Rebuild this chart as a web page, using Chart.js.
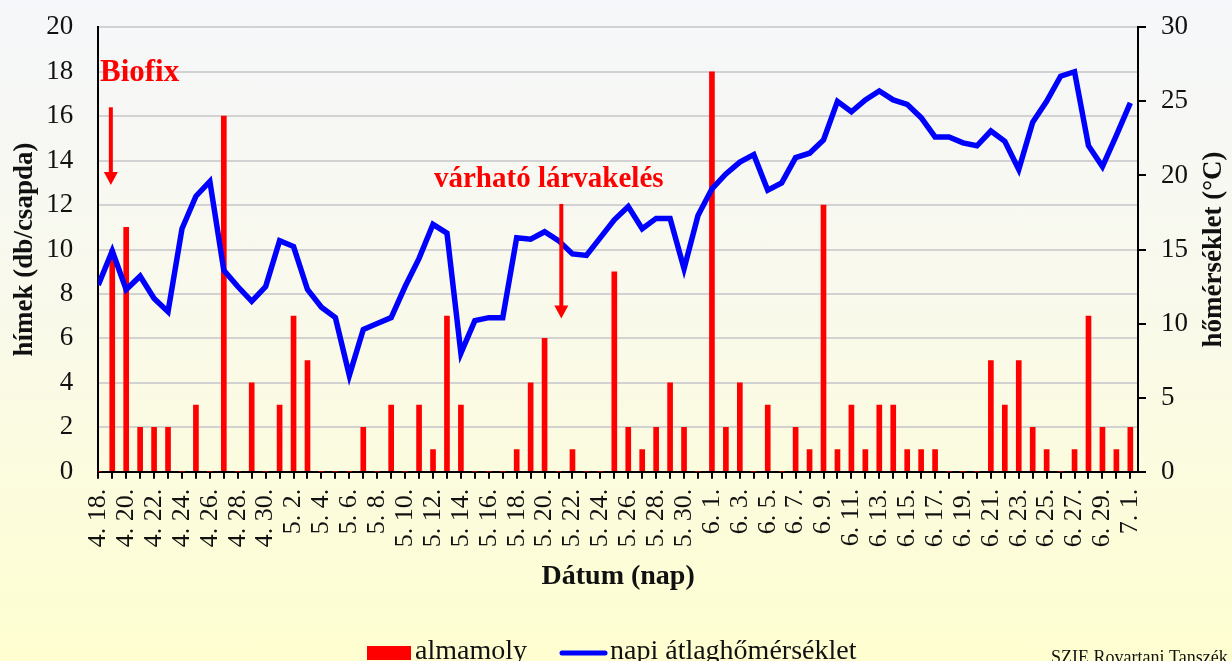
<!DOCTYPE html>
<html>
<head>
<meta charset="utf-8">
<script src="https://cdn.jsdelivr.net/npm/chart.js@4/dist/chart.umd.min.js"></script>
<style>
  html, body { margin: 0; padding: 0; overflow: hidden; }
  body { background: linear-gradient(to bottom, #f5f7fa 0%, #f9f9ec 45%, #fefed0 100%); }
  #wrap { width: 1232px; height: 661px; position: relative; }
</style>
</head>
<body>
<div id="wrap"><canvas id="chart"></canvas></div>
<script>
// napok (4. 18. - 7. 1.)
const dates = [
  '4. 18.','4. 19.','4. 20.','4. 21.','4. 22.','4. 23.','4. 24.','4. 25.','4. 26.','4. 27.','4. 28.','4. 29.','4. 30.',
  '5. 1.','5. 2.','5. 3.','5. 4.','5. 5.','5. 6.','5. 7.','5. 8.','5. 9.','5. 10.','5. 11.','5. 12.','5. 13.','5. 14.',
  '5. 15.','5. 16.','5. 17.','5. 18.','5. 19.','5. 20.','5. 21.','5. 22.','5. 23.','5. 24.','5. 25.','5. 26.','5. 27.',
  '5. 28.','5. 29.','5. 30.','5. 31.',
  '6. 1.','6. 2.','6. 3.','6. 4.','6. 5.','6. 6.','6. 7.','6. 8.','6. 9.','6. 10.','6. 11.','6. 12.','6. 13.','6. 14.',
  '6. 15.','6. 16.','6. 17.','6. 18.','6. 19.','6. 20.','6. 21.','6. 22.','6. 23.','6. 24.','6. 25.','6. 26.','6. 27.',
  '6. 28.','6. 29.','6. 30.','7. 1.'
];

// almamoly hímek (db/csapda)
const moths = [
  0, 10, 11, 2, 2, 2, 0, 3, 0, 16, 0, 4, 0,
  3, 7, 5, 0, 0, 0, 2, 0, 3, 0, 3, 1, 7, 3,
  0, 0, 0, 1, 4, 6, 0, 1, 0, 0, 9, 2, 1,
  2, 4, 2, 0,
  18, 2, 4, 0, 3, 0, 2, 1, 12, 1, 3, 1, 3, 3,
  1, 1, 1, 0, 0, 0, 5, 3, 5, 2, 1, 0, 1,
  7, 2, 1, 2
];

// napi átlaghőmérséklet (°C)
const temps = [
  12.6, 14.9, 12.3, 13.2, 11.7, 10.8, 16.4, 18.6, 19.6, 13.6, 12.5, 11.5, 12.5,
  15.6, 15.2, 12.3, 11.1, 10.4, 6.5, 9.6, 10.0, 10.4, 12.5, 14.4, 16.7, 16.1, 8.0,
  10.2, 10.4, 10.4, 15.8, 15.7, 16.2, 15.6, 14.7, 14.6, 15.8, 17.0, 17.9, 16.4,
  17.1, 17.1, 13.7, 17.3,
  19.1, 20.1, 20.9, 21.4, 19.0, 19.5, 21.2, 21.5, 22.4, 25.0, 24.3, 25.1, 25.7, 25.1,
  24.8, 23.9, 22.6, 22.6, 22.2, 22.0, 23.0, 22.3, 20.4, 23.6, 25.0, 26.7, 27.0,
  22.0, 20.6, 22.7, 24.9
];

const SERIF = "'Liberation Serif', 'Times New Roman', serif";
const TXT = '#111';

function arrow(ctx, x, y1, y2) {
  ctx.save();
  ctx.strokeStyle = '#ff0000';
  ctx.fillStyle = '#ff0000';
  ctx.lineWidth = 4;
  ctx.beginPath();
  ctx.moveTo(x, y1);
  ctx.lineTo(x, y2 - 12);
  ctx.stroke();
  ctx.beginPath();
  ctx.moveTo(x - 7, y2 - 13);
  ctx.lineTo(x + 7, y2 - 13);
  ctx.lineTo(x, y2);
  ctx.closePath();
  ctx.fill();
  ctx.restore();
}

const extras = {
  id: 'extras',
  afterDraw(chart) {
    const ctx = chart.ctx;
    const xs = chart.scales.x, ys = chart.scales.y;
    const area = chart.chartArea;

    // feliratok + nyilak
    ctx.save();
    ctx.fillStyle = '#ff0000';
    ctx.font = 'bold 31px ' + SERIF;
    ctx.textAlign = 'left';
    ctx.textBaseline = 'alphabetic';
    ctx.fillText('Biofix', xs.getPixelForValue(0.12), ys.getPixelForValue(17.6));
    ctx.font = 'bold 29px ' + SERIF;
    ctx.textAlign = 'center';
    ctx.fillText('várható lárvakelés', xs.getPixelForValue(32.3), ys.getPixelForValue(12.83));
    ctx.restore();
    arrow(ctx, xs.getPixelForValue(0.9), ys.getPixelForValue(16.4), ys.getPixelForValue(12.9));
    arrow(ctx, xs.getPixelForValue(33.2), ys.getPixelForValue(12.05), ys.getPixelForValue(6.9));

    // jobb tengely címe (alulról felfelé)
    ctx.save();
    ctx.translate(chart.width - 18, (area.top + area.bottom) / 2);
    ctx.rotate(-Math.PI / 2);
    ctx.fillStyle = TXT;
    ctx.font = 'bold 27px ' + SERIF;
    ctx.textAlign = 'center';
    ctx.textBaseline = 'middle';
    ctx.fillText('hőmérséklet (°C)', 0, 0);
    ctx.restore();

    // jelmagyarázat
    const ds = chart.data.datasets;
    ctx.save();
    ctx.font = '28px ' + SERIF;
    ctx.textAlign = 'left';
    ctx.textBaseline = 'alphabetic';
    ctx.fillStyle = ds[1].backgroundColor;
    ctx.fillRect(367, 646, 44, 14);
    ctx.fillStyle = TXT;
    ctx.fillText(ds[1].label, 415, 659);
    ctx.strokeStyle = ds[0].borderColor;
    ctx.lineWidth = 5;
    ctx.lineCap = 'round';
    ctx.beginPath();
    ctx.moveTo(562, 653);
    ctx.lineTo(605, 653);
    ctx.stroke();
    ctx.fillText(ds[0].label, 610, 659);

    ctx.font = '18px ' + SERIF;
    ctx.fillText('SZIE Rovartani Tanszék', 1051, 663);
    ctx.restore();
  }
};

new Chart(document.getElementById('chart'), {
  type: 'bar',
  data: {
    datasets: [
      {
        type: 'line',
        label: 'napi átlaghőmérséklet',
        data: temps.map((t, i) => ({ x: i, y: t })),
        borderColor: '#0000ff',
        borderWidth: 5.5,
        pointRadius: 0,
        tension: 0,
        yAxisID: 'y1',
        order: 0
      },
      {
        type: 'bar',
        label: 'almamoly',
        data: moths.map((m, i) => ({ x: i, y: m })),
        backgroundColor: '#ff0000',
        barThickness: 5,
        yAxisID: 'y',
        order: 1
      }
    ]
  },
  options: {
    responsive: true,
    maintainAspectRatio: false,
    animation: false,
    layout: { padding: { top: 27.3, left: 0, right: 0, bottom: 0 } },
    plugins: {
      legend: { display: false },
      tooltip: { enabled: false }
    },
    scales: {
      x: {
        type: 'linear',
        min: 0,
        max: 74.55,
        offset: false,
        afterFit(scale) { scale.height = 189.3; },
        grid: { offset: false, drawOnChartArea: false, tickLength: 7, tickColor: '#000', lineWidth: 2 },
        border: { color: '#000', width: 2 },
        ticks: {
          stepSize: 1,
          maxTicksLimit: 100,
          includeBounds: false,
          autoSkip: false,
          minRotation: 90,
          maxRotation: 90,
          padding: 10,
          color: TXT,
          font: { family: SERIF, size: 26 },
          callback: v => (Number.isInteger(v) && v % 2 === 0) ? dates[v] : ''
        },
        title: {
          display: true,
          text: 'Dátum (nap)',
          color: TXT,
          font: { family: SERIF, size: 28, weight: 'bold' },
          padding: { top: 0, bottom: 67 }
        }
      },
      y: {
        position: 'left',
        min: 0,
        max: 20,
        afterFit(scale) { scale.width = 98.3; },
        // invisible tick marks keep the labels away from the axis
        grid: { color: '#d2d2d2', lineWidth: 2, drawTicks: true, tickLength: 25, tickColor: 'rgba(0,0,0,0)' },
        border: { color: '#000', width: 2 },
        ticks: {
          stepSize: 2,
          padding: 0,
          color: TXT,
          font: { family: SERIF, size: 27 }
        },
        title: {
          display: true,
          text: 'hímek (db/csapda)',
          color: TXT,
          font: { family: SERIF, size: 27, weight: 'bold' },
          padding: { top: 9, bottom: 0 }
        }
      },
      y1: {
        position: 'right',
        min: 0,
        max: 30,
        afterFit(scale) { scale.width = 94; },
        grid: { drawOnChartArea: false, tickLength: 8, tickColor: '#000', lineWidth: 2 },
        border: { color: '#000', width: 2 },
        ticks: {
          stepSize: 5,
          padding: 15,
          color: TXT,
          font: { family: SERIF, size: 27, lineHeight: 0.8 }
        }
      }
    }
  },
  plugins: [extras]
});
</script>
</body>
</html>
